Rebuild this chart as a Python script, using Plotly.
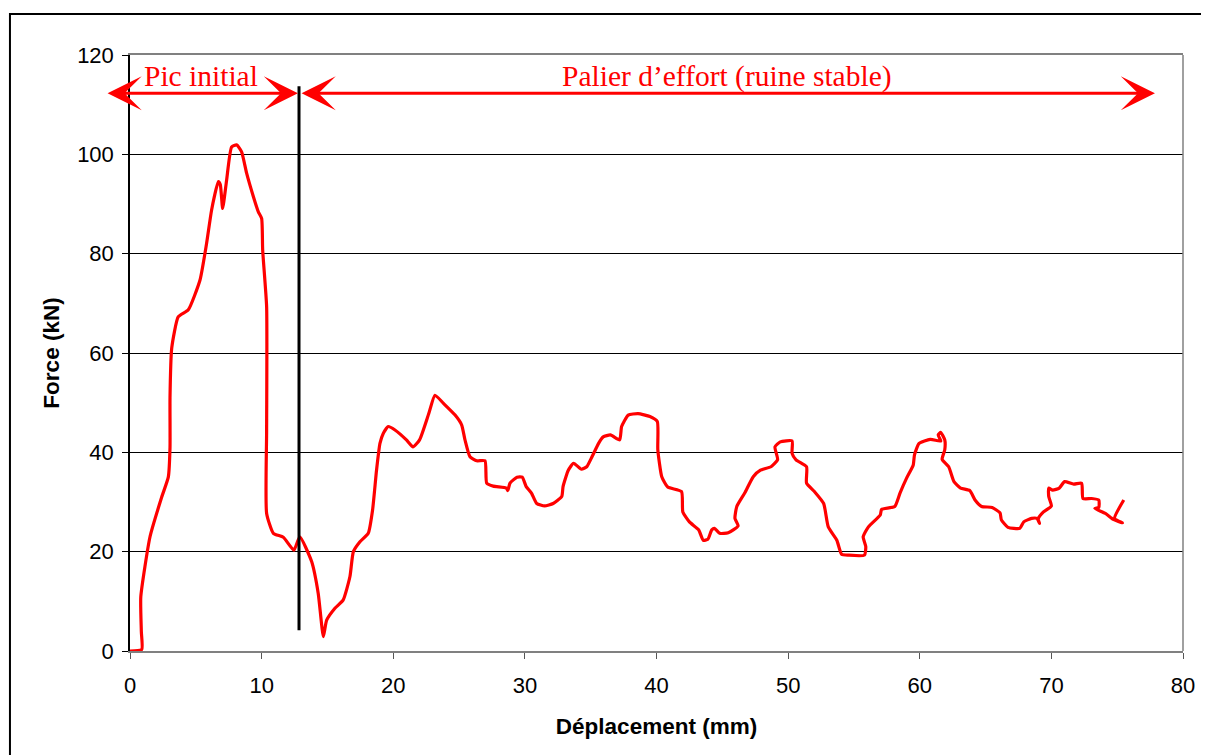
import plotly.graph_objects as go

# Force-displacement curve (mm, kN)
deplacement = [
    0, 0.89, 0.86, 0.82, 1.52, 2.41, 2.91, 3.04, 3.04, 3.17, 3.67, 4.43, 5.32,
    5.82, 6.2, 6.71, 6.86, 7.04, 7.34, 7.72, 8.1, 8.48, 8.86, 9.37, 9.75, 10.0,
    10.08, 10.38, 10.38, 10.38, 10.89, 11.65, 12.45, 12.9, 13.8, 14.3, 14.69,
    14.94, 15.57, 16.2, 16.71, 16.97, 17.47, 18.1, 18.43, 18.73, 18.99, 19.24,
    19.62, 20.13, 21.0, 21.5, 22.0, 22.7, 23.17, 23.8, 24.7, 25.2, 25.45, 25.83,
    26.34, 26.97, 27.1, 27.6, 28.6, 28.7, 28.87, 29.4, 29.8, 30.1, 30.5, 30.9,
    31.5, 32.15, 32.8, 32.9, 33.3, 33.7, 34.3, 34.7, 35.1, 35.6, 35.95, 36.5,
    37.2, 37.35, 37.85, 38.6, 39.5, 40.06, 40.1, 40.4, 40.85, 41.9, 42.0, 42.5,
    43.2, 43.55, 43.9, 44.2, 44.4, 44.8, 45.45, 46.2, 45.96, 46.1, 46.7, 47.35,
    47.9, 48.7, 49.2, 49.0, 49.4, 50.3, 50.3, 50.6, 51.4, 51.4, 52.0, 52.7,
    53.05, 53.7, 54.06, 54.6, 55.8, 55.9, 55.7, 56.1, 57.0, 57.1, 58.1, 58.5,
    59.0, 59.5, 59.6, 59.95, 60.8, 61.6, 61.4, 61.6, 61.9, 61.9, 61.7, 62.2,
    62.6, 63.1, 63.8, 64.2, 64.7, 65.5, 66.1, 66.2, 66.7, 67.6, 67.9, 68.5,
    68.9, 69.1, 69.0, 69.4, 70.0, 69.8, 69.8, 70.1, 70.6, 71.0, 71.7, 72.3,
    72.4, 73.05, 73.6, 73.6, 73.3, 74.1, 74.7, 75.4, 74.8, 75.5,
]
force = [
    0, 0.3, 4, 10.9, 23, 31, 35, 41, 51, 61, 67.3, 68.7, 74.7,
    82.1, 88.8, 94.5, 93.9, 89.1, 94.8, 101.5, 101.9, 100.5, 96.2, 91.5, 88.4, 87.1,
    80.7, 69.3, 44.5, 27.7, 23.7, 22.9, 20.3, 23.0, 18.0, 11.6, 2.9,
    6.2, 8.6, 10.3, 15.0, 20.0, 22.0, 23.7, 28.4, 36.4, 41.8, 43.8,
    45.2, 44.5, 42.5, 41.1, 42.5, 47.8, 51.5, 49.9, 47.5, 45.5, 42.5, 39.1,
    38.3, 38.3, 33.8, 33.2, 32.8, 32.3, 33.8, 35.0, 35.0, 33.1, 31.8, 29.7,
    29.2, 29.7, 31.1, 33.1, 36.4, 37.8, 36.6, 37.1, 39.1, 41.8, 43.1, 43.5,
    42.5, 45.2, 47.5, 47.8, 47.2, 46.2, 40.5, 35.1, 33.0, 32.1, 28.0, 26.0,
    24.4, 22.3, 22.5, 24.4, 24.7, 23.7, 23.8, 25.2, 26.7, 29.1, 31.8, 35.1,
    36.4, 37.1, 38.5, 41.1, 42.1, 42.3, 39.8, 38.5, 37.1, 33.8, 32.1, 29.7,
    25.0, 22.3, 19.5, 19.3, 19.3, 21.0, 23.0, 25.0, 27.4, 28.5, 29.1, 31.8,
    34.8, 37.4, 39.5, 41.8, 42.6, 42.3, 43.5, 44.0, 42.5, 40.5, 38.6, 37.1,
    34.1, 32.8, 32.3, 30.4, 29.1, 28.9, 27.8, 26.4, 24.9, 24.7, 26.0, 26.7,
    26.7, 25.7, 26.6, 28.0, 29.2, 31.1, 32.8, 32.4, 32.8, 34.1, 33.6, 33.8,
    30.7, 30.7, 30.4, 28.9, 28.7, 27.7, 26.5, 25.8, 26.7, 30.4,
]

x_ticks = [0, 10, 20, 30, 40, 50, 60, 70, 80]
y_ticks = [0, 20, 40, 60, 80, 100, 120]

# separation between initial peak and plateau
x_limite = 12.84
arrow_y = 112.3
arrow_left = -1.82
arrow_right = 77.87

RED = "#FF0000"
SERIF = "Liberation Serif, Times New Roman, serif"
SANS = "Liberation Sans, Arial, sans-serif"

fig = go.Figure()
fig.add_trace(
    go.Scatter(
        x=deplacement,
        y=force,
        mode="lines",
        line=dict(color=RED, width=3.2, shape="spline", smoothing=0.5),
        showlegend=False,
        hoverinfo="skip",
    )
)

# vertical separator
fig.add_shape(
    type="line", xref="x", yref="y",
    x0=x_limite, x1=x_limite, y0=4.2, y1=113.7,
    line=dict(color="black", width=3),
)

# double-headed arrows
for x_head, x_tail in [(x_limite - 0.08, arrow_left), (arrow_right, x_limite + 0.08)]:
    fig.add_annotation(
        x=x_head, y=arrow_y, ax=x_tail, ay=arrow_y,
        xref="x", yref="y", axref="x", ayref="y",
        text="", showarrow=True,
        arrowside="end+start",
        arrowhead=3, startarrowhead=3,
        arrowsize=1.9, startarrowsize=1.9,
        arrowwidth=3, arrowcolor=RED,
        standoff=0, startstandoff=0,
    )

fig.add_annotation(
    x=5.4, y=115.7, xref="x", yref="y", text="Pic initial",
    showarrow=False, font=dict(family=SERIF, size=29.5, color=RED),
)
fig.add_annotation(
    x=45.36, y=115.7, xref="x", yref="y", text="Palier d\u2019effort (ruine stable)",
    showarrow=False, font=dict(family=SERIF, size=29.5, color=RED),
)

# outer frame of the picture
fig.add_shape(
    type="rect", xref="paper", yref="paper",
    x0=-0.114, x1=1.05, y0=-0.3, y1=1.0688,
    line=dict(color="black", width=2),
)
# right border of the plot area
fig.add_shape(
    type="line", xref="paper", yref="paper",
    x0=1, x1=1, y0=0, y1=1,
    line=dict(color="#808080", width=1.5),
)

fig.update_xaxes(
    range=[0, 80], tickvals=x_ticks, ticks="outside", ticklen=6,
    tickcolor="#555", linecolor="#808080", linewidth=1.5, mirror=True,
    showgrid=False, zeroline=False, ticklabelstandoff=8,
    tickfont=dict(family=SANS, size=22, color="black"),
    title=dict(text="<b>Déplacement (mm)</b>", font=dict(family=SANS, size=22.5, color="black"), standoff=21),
)
fig.update_yaxes(
    range=[0, 120], tickvals=y_ticks, ticks="outside", ticklen=6,
    tickcolor="black", linecolor="black", linewidth=1.5,
    showgrid=True, gridcolor="black", gridwidth=1, zeroline=False,
    ticklabelstandoff=4,
    tickfont=dict(family=SANS, size=22, color="black"),
    title=dict(text="<b>Force (kN)</b>", font=dict(family=SANS, size=22.5, color="black"), standoff=11),
)

fig.update_layout(
    width=1209, height=755, autosize=False,
    margin=dict(l=122, r=34, t=47, b=112),
    paper_bgcolor="white", plot_bgcolor="white",
)

fig.write_html("out.html")
